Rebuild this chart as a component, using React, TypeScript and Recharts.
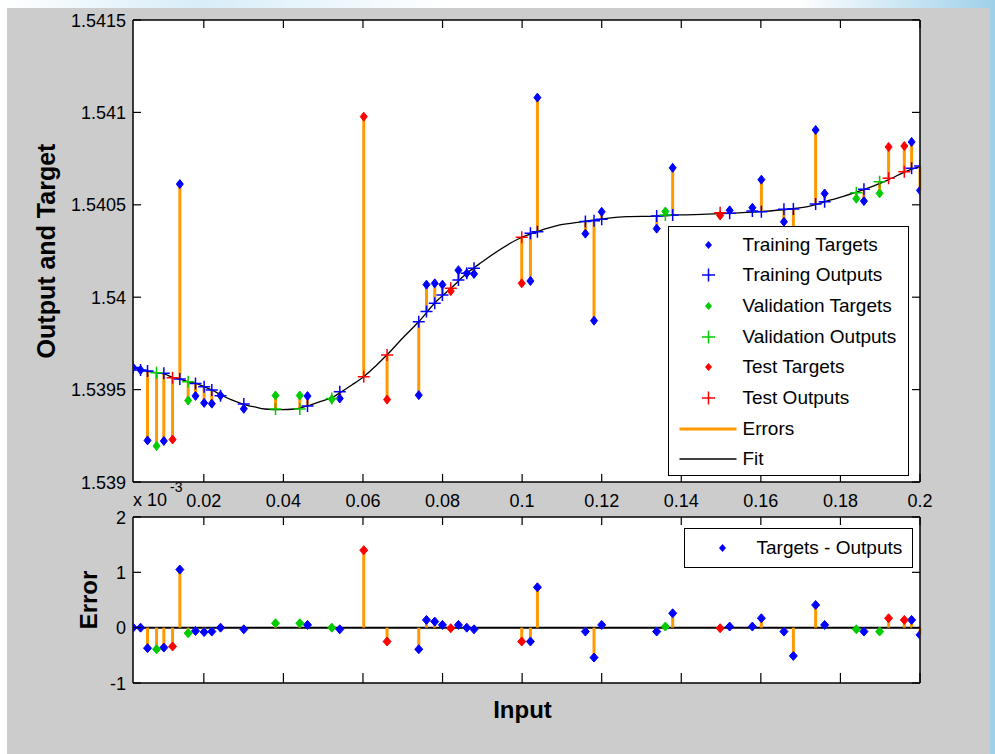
import React from "react";
import {
  CartesianGrid,
  ComposedChart,
  ErrorBar,
  Label,
  Legend,
  Line,
  ReferenceLine,
  Scatter,
  XAxis,
  YAxis,
} from "recharts";

// input samples, the data set they belong to, target values and network outputs
const inputs = [
  0.00224, 0.0041, 0.00585, 0.00812, 0.00995, 0.01214, 0.01397, 0.01606, 0.01791, 0.02008,
  0.02201, 0.0242, 0.03005, 0.03802, 0.04412, 0.04606, 0.05216, 0.05417, 0.0602, 0.06606,
  0.07402, 0.07596, 0.07804, 0.07997, 0.08206, 0.08399, 0.08608, 0.08791, 0.0999, 0.10209,
  0.10384, 0.1159, 0.11807, 0.12, 0.13382, 0.136, 0.13784, 0.14977, 0.15216, 0.15787,
  0.16013, 0.1658, 0.16817, 0.17377, 0.17603, 0.184, 0.18591, 0.18985, 0.19211, 0.19606,
  0.19789, 0.2,
];

const sets = [
  "train", "train", "train", "val", "train", "test", "train", "val", "train", "train",
  "train", "train", "train", "val", "val", "train", "val", "train", "test", "test",
  "train", "train", "train", "train", "test", "train", "train", "train", "test", "train",
  "train", "train", "train", "train", "train", "val", "train", "test", "train", "train",
  "train", "train", "train", "train", "train", "val", "train", "val", "test", "test",
  "train", "train",
];

const targets = [
  1.539619, 1.539606, 1.539225, 1.539195, 1.539222, 1.53923, 1.540612, 1.539441, 1.539466, 1.539428,
  1.539424, 1.539468, 1.539396, 1.539468, 1.539468, 1.539465, 1.539448, 1.539452, 1.540977, 1.539446,
  1.53947, 1.540068, 1.540075, 1.540068, 1.540033, 1.540146, 1.540129, 1.540126, 1.540075, 1.540088,
  1.54108, 1.540344, 1.539873, 1.540462, 1.540371, 1.540464, 1.5407, 1.540442, 1.54047, 1.540484,
  1.540636, 1.540408, 1.539967, 1.540905, 1.540561, 1.540533, 1.54052, 1.540562, 1.540813, 1.540818,
  1.54084, 1.540578,
];

const outputs = [
  1.539619, 1.539606, 1.539601, 1.539591, 1.539588, 1.539564, 1.539557, 1.539543, 1.539533, 1.539516,
  1.539498, 1.539467, 1.539422, 1.539395, 1.539395, 1.539411, 1.539452, 1.539489, 1.53957, 1.539687,
  1.539867, 1.539922, 1.539967, 1.540012, 1.540048, 1.540093, 1.540129, 1.540156, 1.540324, 1.540346,
  1.540354, 1.540409, 1.540414, 1.540422, 1.540439, 1.540445, 1.540445, 1.540457, 1.540454, 1.540466,
  1.540463, 1.540476, 1.540477, 1.540504, 1.540517, 1.540565, 1.540584, 1.540625, 1.540643, 1.540679,
  1.540698, 1.54071,
];

// error panel values, in units of 1e-3
const errors = [
  0, 0, -0.37, -0.39, -0.36, -0.34, 1.05, -0.1, -0.06, -0.08,
  -0.07, 0, -0.03, 0.08, 0.08, 0.05, 0, -0.03, 1.4, -0.25,
  -0.39, 0.14, 0.11, 0.05, -0.01, 0.05, 0, -0.03, -0.25, -0.25,
  0.73, -0.07, -0.54, 0.05, -0.07, 0.02, 0.26, -0.01, 0.02, 0.02,
  0.17, -0.07, -0.51, 0.41, 0.05, -0.03, -0.07, -0.07, 0.17, 0.14,
  0.14, -0.13,
];

// fitted curve
const fitInputs = [
  0.0022, 0.0052, 0.0082, 0.0102, 0.0122, 0.014, 0.016, 0.018, 0.02, 0.022,
  0.0243, 0.027, 0.0298, 0.0328, 0.0353, 0.0391, 0.0429, 0.0459, 0.0492, 0.0522,
  0.0542, 0.0572, 0.0602, 0.0632, 0.066, 0.07, 0.074, 0.078, 0.0821, 0.0861,
  0.0899, 0.0936, 0.0994, 0.1037, 0.1095, 0.1152, 0.1213, 0.1263, 0.1338, 0.1396,
  0.1464, 0.1522, 0.1597, 0.1668, 0.1718, 0.1776, 0.1844, 0.1919, 0.1973, 0.2,
];
const fitValues = [
  1.539619, 1.539603, 1.539591, 1.539584, 1.539566, 1.539557, 1.539543, 1.539533, 1.539516, 1.539498,
  1.539471, 1.539444, 1.539422, 1.539406, 1.539395, 1.539392, 1.539395, 1.539411, 1.539435, 1.539456,
  1.539483, 1.539525, 1.53957, 1.539628, 1.539687, 1.539779, 1.539867, 1.539967, 1.540048, 1.540129,
  1.54019, 1.540246, 1.540319, 1.540354, 1.540391, 1.540409, 1.540427, 1.540436, 1.540439, 1.540445,
  1.540449, 1.540454, 1.540463, 1.540476, 1.54049, 1.540526, 1.540571, 1.540634, 1.540688, 1.540707,
];

const xTicks = [0.02, 0.04, 0.06, 0.08, 0.1, 0.12, 0.14, 0.16, 0.18, 0.2];
const xTickLabels = ["0.02", "0.04", "0.06", "0.08", "0.1", "0.12", "0.14", "0.16", "0.18", "0.2"];
const outYTicks = [1.539, 1.5395, 1.54, 1.5405, 1.541, 1.5415];
const outYLabels = ["1.539", "1.5395", "1.54", "1.5405", "1.541", "1.5415"];
const errYTicks = [-1, 0, 1, 2];
const errYLabels = ["-1", "0", "1", "2"];

const topLegendLabels = [
  "Training Targets",
  "Training Outputs",
  "Validation Targets",
  "Validation Outputs",
  "Test Targets",
  "Test Outputs",
  "Errors",
  "Fit",
];
const bottomLegendLabel = "Targets - Outputs";

const X_DOMAIN: [number, number] = [0.0022, 0.2];
const FONT = '"Liberation Sans", Arial, Helvetica, sans-serif';
const BLUE = "#0000ff";
const GREEN = "#00cc00";
const RED = "#ff0000";
const ORANGE = "#ff9900";
const AXIS_LINE = { stroke: "#000", strokeWidth: 1.5 };

const SET_STYLES = [
  { key: "train", color: BLUE },
  { key: "val", color: GREEN },
  { key: "test", color: RED },
];

const idx = inputs.map((_, i) => i);
const rowsFor = (set: string, pick: (i: number) => number) =>
  idx.filter((i) => sets[i] === set).map((i) => ({ x: inputs[i], y: pick(i) }));

const errRows = idx.map((i) => {
  const d = targets[i] - outputs[i];
  return { x: inputs[i], y: outputs[i], range: d >= 0 ? [0, d] : [-d, 0] };
});
const stemRows = idx.map((i) => ({
  x: inputs[i],
  y: errors[i],
  range: errors[i] >= 0 ? [errors[i], 0] : [0, -errors[i]],
}));
const fitRows = fitInputs.map((x, i) => ({ x, y: fitValues[i] }));

const tickText = { fontFamily: FONT, fontSize: 18, fill: "#000" };
const titleText = { fontFamily: FONT, fontSize: 24, fontWeight: 700, fill: "#000" };

const labelFor = (ticks: number[], labels: string[], p: any) => {
  const k = ticks.indexOf(p.payload?.value);
  return labels[k >= 0 ? k : p.index];
};

const bottomTick = (len: number, labels: string[] | null) => (p: any) => (
  <g>
    <line x1={p.x} x2={p.x} y1={p.y} y2={p.y - len} stroke="#000" strokeWidth={1.2} />
    {labels && (
      <text x={p.x} y={p.y + 25} textAnchor="middle" style={tickText}>
        {labelFor(xTicks, labels, p)}
      </text>
    )}
  </g>
);
const topTick = (len: number) => (p: any) => (
  <line x1={p.x} x2={p.x} y1={p.y} y2={p.y + len} stroke="#000" strokeWidth={1.2} />
);
const leftTick = (len: number, ticks: number[], labels: string[]) => (p: any) => (
  <g>
    <line x1={p.x} x2={p.x + len} y1={p.y} y2={p.y} stroke="#000" strokeWidth={1.2} />
    <text x={p.x - 7} y={p.y + 6.5} textAnchor="end" style={tickText}>
      {labelFor(ticks, labels, p)}
    </text>
  </g>
);
const rightTick = (len: number) => (p: any) => (
  <line x1={p.x} x2={p.x - len} y1={p.y} y2={p.y} stroke="#000" strokeWidth={1.2} />
);

const yTitle = (text: string, cxFromLeft: number, size: number) => (props: any) => {
  const vb = props.viewBox;
  const cx = vb.x + cxFromLeft;
  const cy = vb.y + vb.height / 2;
  return (
    <text
      x={cx}
      y={cy}
      transform={`rotate(-90 ${cx} ${cy})`}
      textAnchor="middle"
      dominantBaseline="central"
      style={{ ...titleText, fontSize: size }}
    >
      {text}
    </text>
  );
};
const xTitle = (text: string, baseline: number) => (props: any) => {
  const vb = props.viewBox;
  return (
    <text x={vb.x + vb.width / 2 - 4} y={vb.y + baseline} textAnchor="middle" style={titleText}>
      {text}
    </text>
  );
};

const noShape = () => <g />;
const diamond = (color: string, w: number, h: number) => (p: any) =>
  p.cx == null ? (
    <g />
  ) : (
    <polygon
      points={`${p.cx},${p.cy - h} ${p.cx + w},${p.cy} ${p.cx},${p.cy + h} ${p.cx - w},${p.cy}`}
      fill={color}
      stroke={color}
      strokeWidth={1}
    />
  );
const cross = (color: string, s: number) => (p: any) =>
  p.cx == null ? (
    <g />
  ) : (
    <path
      d={`M${p.cx - s},${p.cy}H${p.cx + s}M${p.cx},${p.cy - s}V${p.cy + s}`}
      stroke={color}
      strokeWidth={1.5}
      fill="none"
    />
  );

const legendMarkers = [
  { kind: "diamond", color: BLUE },
  { kind: "cross", color: BLUE },
  { kind: "diamond", color: GREEN },
  { kind: "cross", color: GREEN },
  { kind: "diamond", color: RED },
  { kind: "cross", color: RED },
  { kind: "thick", color: ORANGE },
  { kind: "thin", color: "#000" },
];

function LegendMarker({ kind, color, cx }: { kind: string; color: string; cx: number }) {
  if (kind === "diamond")
    return <polygon points={`${cx},11 ${cx + 3.5},15 ${cx},19 ${cx - 3.5},15`} fill={color} />;
  if (kind === "cross")
    return <path d={`M${cx - 6.5},15H${cx + 6.5}M${cx},8.5V21.5`} stroke={color} strokeWidth={1.5} />;
  return (
    <line x1={10.5} x2={67.5} y1={15} y2={15} stroke={color} strokeWidth={kind === "thick" ? 3 : 1.3} />
  );
}

function TopLegend() {
  return (
    <div
      style={{
        position: "relative",
        width: 241,
        height: 250,
        boxSizing: "border-box",
        border: "1.5px solid #000",
        background: "#fff",
      }}
    >
      {topLegendLabels.map((label, i) => (
        <div
          key={label}
          style={{ position: "absolute", left: 0, top: 2.5 + i * 30.7, height: 30, display: "flex", alignItems: "center" }}
        >
          <svg width={73.5} height={30} style={{ display: "block" }}>
            <LegendMarker kind={legendMarkers[i].kind} color={legendMarkers[i].color} cx={39.5} />
          </svg>
          <span style={{ fontFamily: FONT, fontSize: 19, color: "#000", whiteSpace: "nowrap" }}>{label}</span>
        </div>
      ))}
    </div>
  );
}

function BottomLegend() {
  return (
    <div
      style={{
        width: 229,
        height: 40,
        boxSizing: "border-box",
        border: "1.5px solid #000",
        background: "#fff",
        display: "flex",
        alignItems: "center",
      }}
    >
      <svg width={71.5} height={30} style={{ display: "block" }}>
        <LegendMarker kind="diamond" color={BLUE} cx={37.5} />
      </svg>
      <span style={{ fontFamily: FONT, fontSize: 19, color: "#000", whiteSpace: "nowrap" }}>
        {bottomLegendLabel}
      </span>
    </div>
  );
}

export default function App() {
  return (
    <div
      style={{
        position: "absolute",
        left: 0,
        top: 0,
        width: 995,
        height: 754,
        overflow: "hidden",
        background: "linear-gradient(90deg, #ffffff 0%, #d7edf8 20%, #ffffff 45%, #ffffff 80%, #9fd0ea 100%)",
      }}
    >
      <div style={{ position: "absolute", left: 7, top: 8, width: 983, height: 746, background: "#cccccc" }} />

      <svg width={995} height={754} style={{ position: "absolute", left: 0, top: 0 }}>
        <text x={133} y={506} style={tickText}>
          x 10
        </text>
        <text x={170} y={492} style={{ ...tickText, fontSize: 14 }}>
          -3
        </text>
      </svg>

      <div style={{ position: "absolute", left: 0, top: 0 }}>
        <ComposedChart width={995} height={515} margin={{ top: 19, right: 74, bottom: 0, left: 0 }}>
          <CartesianGrid horizontal={false} vertical={false} fill="#ffffff" />
          <XAxis
            dataKey="x"
            type="number"
            domain={X_DOMAIN}
            allowDataOverflow
            ticks={xTicks}
            interval={0}
            height={33}
            tickLine={false}
            tickSize={0}
            tickMargin={0}
            axisLine={AXIS_LINE}
            tick={bottomTick(8, xTickLabels)}
          />
          <XAxis
            xAxisId="top"
            orientation="top"
            dataKey="x"
            type="number"
            domain={X_DOMAIN}
            allowDataOverflow
            ticks={xTicks}
            interval={0}
            height={1}
            tickLine={false}
            tickSize={0}
            tickMargin={0}
            axisLine={AXIS_LINE}
            tick={topTick(8)}
          />
          <YAxis
            type="number"
            domain={[1.539, 1.5415]}
            allowDataOverflow
            ticks={outYTicks}
            interval={0}
            width={133}
            tickLine={false}
            tickSize={0}
            tickMargin={0}
            axisLine={AXIS_LINE}
            tick={leftTick(8, outYTicks, outYLabels)}
          >
            <Label content={yTitle("Output and Target", 46, 25)} />
          </YAxis>
          <YAxis
            yAxisId="right"
            orientation="right"
            type="number"
            domain={[1.539, 1.5415]}
            allowDataOverflow
            ticks={outYTicks}
            interval={0}
            width={1}
            tickLine={false}
            tickSize={0}
            tickMargin={0}
            axisLine={AXIS_LINE}
            tick={rightTick(8)}
          />
          <Scatter data={errRows} dataKey="y" shape={noShape} isAnimationActive={false}>
            <ErrorBar dataKey="range" direction="y" width={0} stroke={ORANGE} strokeWidth={3} isAnimationActive={false} />
          </Scatter>
          <Line
            data={fitRows}
            dataKey="y"
            type="monotone"
            stroke="#000"
            strokeWidth={1.3}
            dot={false}
            activeDot={false}
            isAnimationActive={false}
          />
          {SET_STYLES.map((s) => (
            <Scatter
              key={`t-${s.key}`}
              data={rowsFor(s.key, (i) => targets[i])}
              dataKey="y"
              shape={diamond(s.color, 3.5, 4.5)}
              isAnimationActive={false}
            />
          ))}
          {SET_STYLES.map((s) => (
            <Scatter
              key={`o-${s.key}`}
              data={rowsFor(s.key, (i) => outputs[i])}
              dataKey="y"
              shape={cross(s.color, 6)}
              isAnimationActive={false}
            />
          ))}
          <Legend
            layout="vertical"
            align="center"
            verticalAlign="middle"
            wrapperStyle={{ left: 668, top: 226, width: 241, height: 250 }}
            content={() => <TopLegend />}
          />
        </ComposedChart>
      </div>

      <div style={{ position: "absolute", left: 0, top: 500 }}>
        <ComposedChart width={995} height={230} margin={{ top: 16, right: 74, bottom: 0, left: 0 }}>
          <CartesianGrid horizontal={false} vertical={false} fill="#ffffff" />
          <XAxis
            dataKey="x"
            type="number"
            domain={X_DOMAIN}
            allowDataOverflow
            ticks={xTicks}
            interval={0}
            height={47}
            tickLine={false}
            tickSize={0}
            tickMargin={0}
            axisLine={AXIS_LINE}
            tick={bottomTick(10, null)}
          >
            <Label content={xTitle("Input", 35)} />
          </XAxis>
          <XAxis
            xAxisId="top"
            orientation="top"
            dataKey="x"
            type="number"
            domain={X_DOMAIN}
            allowDataOverflow
            ticks={xTicks}
            interval={0}
            height={1}
            tickLine={false}
            tickSize={0}
            tickMargin={0}
            axisLine={AXIS_LINE}
            tick={topTick(8)}
          />
          <YAxis
            type="number"
            domain={[-1, 2]}
            allowDataOverflow
            ticks={errYTicks}
            interval={0}
            width={133}
            tickLine={false}
            tickSize={0}
            tickMargin={0}
            axisLine={AXIS_LINE}
            tick={leftTick(8, errYTicks, errYLabels)}
          >
            <Label content={yTitle("Error", 88, 24)} />
          </YAxis>
          <YAxis
            yAxisId="right"
            orientation="right"
            type="number"
            domain={[-1, 2]}
            allowDataOverflow
            ticks={errYTicks}
            interval={0}
            width={1}
            tickLine={false}
            tickSize={0}
            tickMargin={0}
            axisLine={AXIS_LINE}
            tick={rightTick(8)}
          />
          <ReferenceLine y={0} stroke="#000" strokeWidth={2} />
          <Scatter data={stemRows} dataKey="y" shape={noShape} isAnimationActive={false}>
            <ErrorBar dataKey="range" direction="y" width={0} stroke={ORANGE} strokeWidth={3} isAnimationActive={false} />
          </Scatter>
          {SET_STYLES.map((s) => (
            <Scatter
              key={`e-${s.key}`}
              data={rowsFor(s.key, (i) => errors[i])}
              dataKey="y"
              shape={diamond(s.color, 4, 4.5)}
              isAnimationActive={false}
            />
          ))}
          <Legend
            layout="vertical"
            align="center"
            verticalAlign="middle"
            wrapperStyle={{ left: 684, top: 28, width: 229, height: 40 }}
            content={() => <BottomLegend />}
          />
        </ComposedChart>
      </div>
    </div>
  );
}
